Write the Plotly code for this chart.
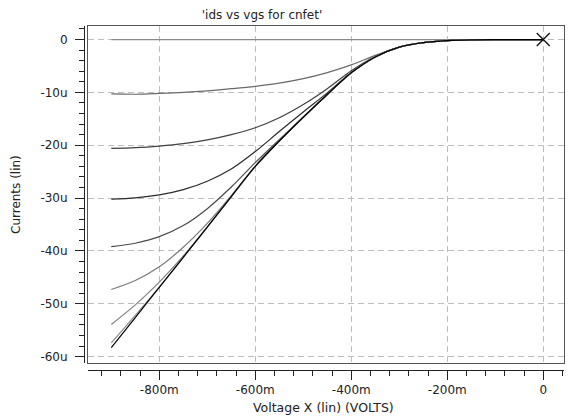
import plotly.graph_objects as go

# Gate voltage sweep (V)
vgs = [-0.90, -0.85, -0.80, -0.75, -0.70, -0.65, -0.60, -0.55, -0.50, -0.45,
       -0.40, -0.35, -0.30, -0.25, -0.20, -0.15, -0.10, -0.05, 0.0]

# Drain currents (uA), one list per drain-bias step
ids_0 = [0.0] * 19
ids_1 = [-10.3, -10.35, -10.2, -10.0, -9.7, -9.3, -8.85, -8.25, -7.4, -6.25,
         -4.8, -3.0, -1.42, -0.6, -0.2, -0.05, -0.01, 0.0, 0.0]
ids_2 = [-20.6, -20.45, -20.15, -19.7, -19.0, -18.0, -16.7, -14.8, -12.3, -9.3,
         -5.9, -3.2, -1.43, -0.6, -0.2, -0.05, -0.01, 0.0, 0.0]
ids_3 = [-30.2, -29.95, -29.4, -28.4, -26.8, -24.5, -21.2, -17.4, -13.7, -10.1,
         -6.25, -3.3, -1.45, -0.6, -0.2, -0.05, -0.01, 0.0, 0.0]
ids_4 = [-39.2, -38.55, -37.3, -35.2, -32.0, -27.9, -23.3, -18.95, -14.65, -10.4,
         -6.3, -3.3, -1.45, -0.6, -0.2, -0.05, -0.01, 0.0, 0.0]
ids_5 = [-47.3, -45.6, -43.0, -39.3, -34.8, -29.55, -23.95, -19.2, -14.7, -10.4,
         -6.3, -3.3, -1.45, -0.6, -0.2, -0.05, -0.01, 0.0, 0.0]
ids_6 = [-53.9, -50.2, -45.9, -40.95, -35.45, -29.7, -24.0, -19.2, -14.7, -10.4,
         -6.3, -3.3, -1.45, -0.6, -0.2, -0.05, -0.01, 0.0, 0.0]
ids_7 = [-57.4, -52.2, -46.85, -41.2, -35.5, -29.7, -24.0, -19.2, -14.7, -10.4,
         -6.3, -3.3, -1.45, -0.6, -0.2, -0.05, -0.01, 0.0, 0.0]
ids_8 = [-58.3, -52.6, -46.9, -41.2, -35.5, -29.7, -24.0, -19.2, -14.7, -10.4,
         -6.3, -3.3, -1.45, -0.6, -0.2, -0.05, -0.01, 0.0, 0.0]

series = [ids_0, ids_1, ids_2, ids_3, ids_4, ids_5, ids_6, ids_7, ids_8]
series_colors = ["#8a8a8a", "#6a6a6a", "#404040", "#2a2a2a", "#4a4a4a",
                 "#7a7a7a", "#808080", "#8a8a8a", "#000000"]

x_tickvals = [-0.8, -0.6, -0.4, -0.2, 0.0]
x_ticktext = ["-800m", "-600m", "-400m", "-200m", "0"]
y_tickvals = [0, -10, -20, -30, -40, -50, -60]
y_ticktext = ["0", "-10u", "-20u", "-30u", "-40u", "-50u", "-60u"]

marker_x = [0.0]
marker_y = [0.0]

X_RANGE = [-0.9485, 0.0432]
Y_RANGE = [-61.2, 2.56]
FONT = "DejaVu Sans"
TXT = "#222222"

W, H = 569, 416
ML, MR, MT, MB = 84, 5, 26, 46
PW, PH = W - ML - MR, H - MT - MB


def px_to_paper(px, py):
    return (px - ML) / PW, (H - MB - py) / PH


fig = go.Figure()
for ys, col in zip(series, series_colors):
    fig.add_trace(go.Scatter(
        x=vgs, y=ys, mode="lines",
        line=dict(color=col, width=1.2, shape="spline", smoothing=0.9),
        showlegend=False, hoverinfo="skip"))

fig.add_trace(go.Scatter(
    x=marker_x, y=marker_y, mode="markers", xaxis="x2", yaxis="y2",
    marker=dict(symbol="x-thin", size=13, line=dict(color="#111111", width=1.3)),
    showlegend=False, hoverinfo="skip"))

grid = dict(showgrid=True, gridcolor="#bdbdbd", gridwidth=1, griddash="6px,4px",
            zeroline=False, showline=True, linecolor="#555555", linewidth=1,
            mirror=True, ticks="", showticklabels=False)

xt_x, xt_y = px_to_paper(323, 407)
yt_x, yt_y = px_to_paper(16, 195)

fig.update_layout(
    width=W, height=H,
    margin=dict(l=ML, r=MR, t=MT, b=MB),
    paper_bgcolor="white", plot_bgcolor="white",
    font=dict(family=FONT, size=12, color=TXT),
    title=dict(text="'ids vs vgs for cnfet'", x=262 / W, xref="container",
               xanchor="center", y=1 - 15 / H, yref="container",
               yanchor="middle", font=dict(family=FONT, size=12, color=TXT)),
    xaxis=dict(domain=[4 / PW, 1], range=X_RANGE, tickmode="array",
               tickvals=x_tickvals, **grid),
    yaxis=dict(domain=[7 / PH, 1], range=Y_RANGE, tickmode="array",
               tickvals=y_tickvals, **grid),
    xaxis2=dict(overlaying="x", anchor="free", position=0, side="bottom",
                range=X_RANGE, tickmode="array", tickvals=x_tickvals,
                ticktext=x_ticktext, ticks="outside", ticklen=9, tickwidth=1,
                tickcolor=TXT, showline=True, linecolor=TXT, linewidth=1,
                showgrid=False, zeroline=False,
                tickfont=dict(family=FONT, size=12, color=TXT),
                minor=dict(ticks="outside", ticklen=5, tickmode="linear",
                           tick0=0, dtick=0.04, tickcolor=TXT, showgrid=False)),
    yaxis2=dict(overlaying="y", anchor="free", position=0, side="left",
                range=Y_RANGE, tickmode="array", tickvals=y_tickvals,
                ticktext=y_ticktext, ticks="outside", ticklen=9, tickwidth=1,
                tickcolor=TXT, showline=True, linecolor=TXT, linewidth=1,
                showgrid=False, zeroline=False, ticklabelstandoff=5,
                tickfont=dict(family=FONT, size=12, color=TXT),
                minor=dict(ticks="outside", ticklen=5, tickmode="linear",
                           tick0=0, dtick=2, tickcolor=TXT, showgrid=False)),
    annotations=[
        dict(text="Voltage X (lin) (VOLTS)", x=xt_x, y=xt_y,
             xref="paper", yref="paper", showarrow=False, xanchor="center",
             yanchor="middle", font=dict(family=FONT, size=12.5, color=TXT)),
        dict(text="Currents (lin)", x=yt_x, y=yt_y,
             xref="paper", yref="paper", showarrow=False, textangle=-90,
             xanchor="center", yanchor="middle",
             font=dict(family=FONT, size=12, color=TXT)),
    ],
)

fig.write_html("out.html")
